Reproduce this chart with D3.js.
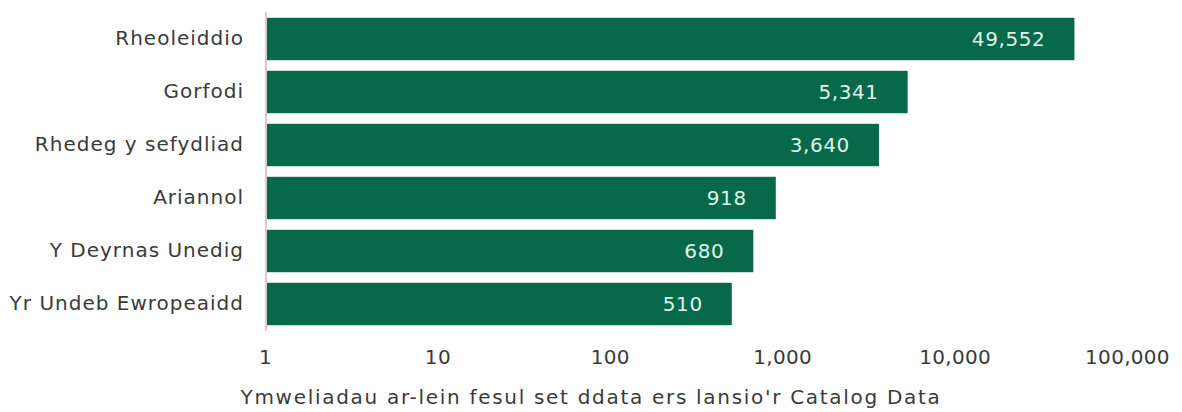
<!DOCTYPE html>
<html>
<head>
<meta charset="utf-8">
<script src="https://cdn.jsdelivr.net/npm/d3@7"></script>
<style>
  html, body { margin: 0; padding: 0; background: #ffffff; overflow: hidden; }
  svg { display: block; }
  text { font-family: "DejaVu Sans", sans-serif; }
</style>
</head>
<body>
<svg id="chart" width="1182" height="412"></svg>
<script>
// Online visits per dataset since the Data Catalogue launch, by theme
const categories = [
  "Rheoleiddio",
  "Gorfodi",
  "Rhedeg y sefydliad",
  "Ariannol",
  "Y Deyrnas Unedig",
  "Yr Undeb Ewropeaidd"
];
const visits = [49552, 5341, 3640, 918, 680, 510];
const tickValues = [1, 10, 100, 1000, 10000, 100000];
const axisTitle = "Ymweliadau ar-lein fesul set ddata ers lansio'r Catalog Data";

const svg = d3.select("#chart");
const barColor = "#07694a";
const textColor = "#3a3a3a";

const x = d3.scaleLog().domain([1, 100000]).range([265, 1127]);
const y = d3.scaleBand().domain(categories).range([12.5, 330.5])
  .paddingInner(0.2).paddingOuter(0.1);

const fmt = d3.format(",");

// bars
svg.append("g").selectAll("rect")
  .data(categories)
  .join("rect")
  .attr("x", x(1) + 2)
  .attr("y", d => y(d))
  .attr("width", (d, i) => x(visits[i]) - x(1) - 2)
  .attr("height", y.bandwidth())
  .attr("fill", barColor);

// value labels inside the bar ends
svg.append("g").selectAll("text")
  .data(categories)
  .join("text")
  .attr("x", (d, i) => x(visits[i]) - 29)
  .attr("y", d => y(d) + y.bandwidth() / 2)
  .attr("dy", "0.35em")
  .attr("text-anchor", "end")
  .attr("fill", "#dff2ea")
  .style("font-size", "20px")
  .style("letter-spacing", "0.6px")
  .text((d, i) => fmt(visits[i]));

// category axis
const yAxis = svg.append("g")
  .attr("transform", `translate(${x(1) + 1},0)`)
  .call(d3.axisLeft(y).tickSize(0).tickPadding(22));
yAxis.select(".domain")
  .attr("stroke", "#d8c9cd")
  .attr("stroke-width", 2)
  .attr("d", `M0,12V331`);
yAxis.selectAll("text")
  .attr("fill", textColor)
  .style("font-size", "20px")
  .style("letter-spacing", "1px");

// value axis (log scale)
const xAxis = svg.append("g")
  .attr("transform", "translate(0,340)")
  .call(d3.axisBottom(x).tickValues(tickValues).tickFormat(fmt).tickSize(0).tickPadding(10));
xAxis.select(".domain").remove();
xAxis.selectAll("text")
  .attr("fill", textColor)
  .style("font-size", "20px")
  .style("letter-spacing", "0.3px");

// axis title
svg.append("text")
  .attr("x", 591)
  .attr("y", 404)
  .attr("text-anchor", "middle")
  .attr("fill", textColor)
  .style("font-size", "20px")
  .style("letter-spacing", "1.7px")
  .text(axisTitle);
</script>
</body>
</html>
